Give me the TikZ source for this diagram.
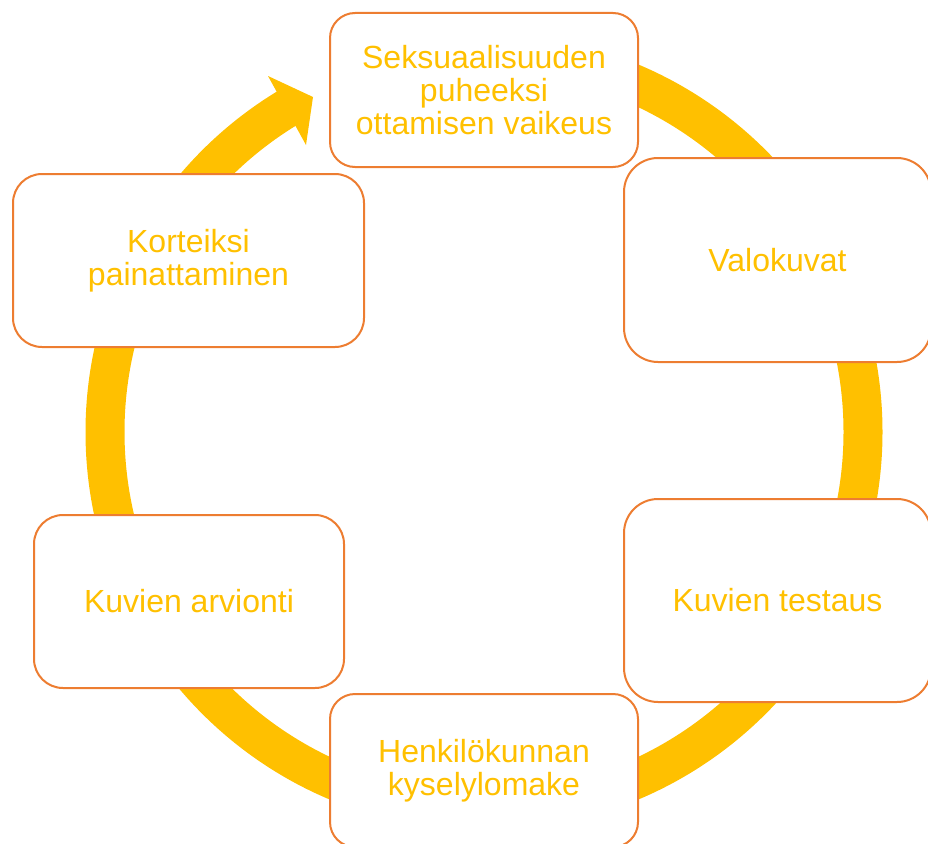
\documentclass[tikz,border=0pt]{standalone}
\usepackage{fontspec}
\setmainfont{Liberation Sans}
\definecolor{ringy}{RGB}{255,192,0}
\definecolor{bord}{RGB}{237,125,49}
\begin{document}
\begin{tikzpicture}[x=1pt,y=-1pt,
  box/.style={draw=bord, line width=2pt, fill=white, align=center, inner sep=0pt,
    text=ringy, font=\fontsize{32}{33}\selectfont},
  ring/.style={draw=ringy, line width=39pt}]
\useasboundingbox (0,0) rectangle (928,843);
\coordinate (C) at (484,432);
% ring
\draw[ring] ([shift={(-90:379)}]C) arc[start angle=-90, end angle=239, radius=379];
\coordinate (h1) at (268,76);
\coordinate (h2) at (313,97);
\coordinate (h3) at (306,145);
\fill[ringy] (h1) -- (h2) -- (h3) -- cycle;
% boxes
\node[box, minimum width=308pt, minimum height=154pt, rounded corners=25pt] (top) at (484,90) {Seksuaalisuuden\\puheeksi\\ottamisen vaikeus};
\node[box, minimum width=307pt, minimum height=204pt, rounded corners=34pt] (valo) at (777.5,260) {Valokuvat};
\node[box, minimum width=307pt, minimum height=203pt, rounded corners=34pt] (test) at (777.5,600.5) {Kuvien testaus};
\node[box, minimum width=308pt, minimum height=153pt, rounded corners=25pt] (henk) at (484,770.5) {Henkilökunnan\\kyselylomake};
\node[box, minimum width=310pt, minimum height=173pt, rounded corners=29pt] (arvi) at (189,601.5) {Kuvien arvionti};
\node[box, minimum width=351pt, minimum height=173pt, rounded corners=29pt] (kort) at (188.5,260.5) {Korteiksi\\painattaminen};
\end{tikzpicture}
\end{document}
